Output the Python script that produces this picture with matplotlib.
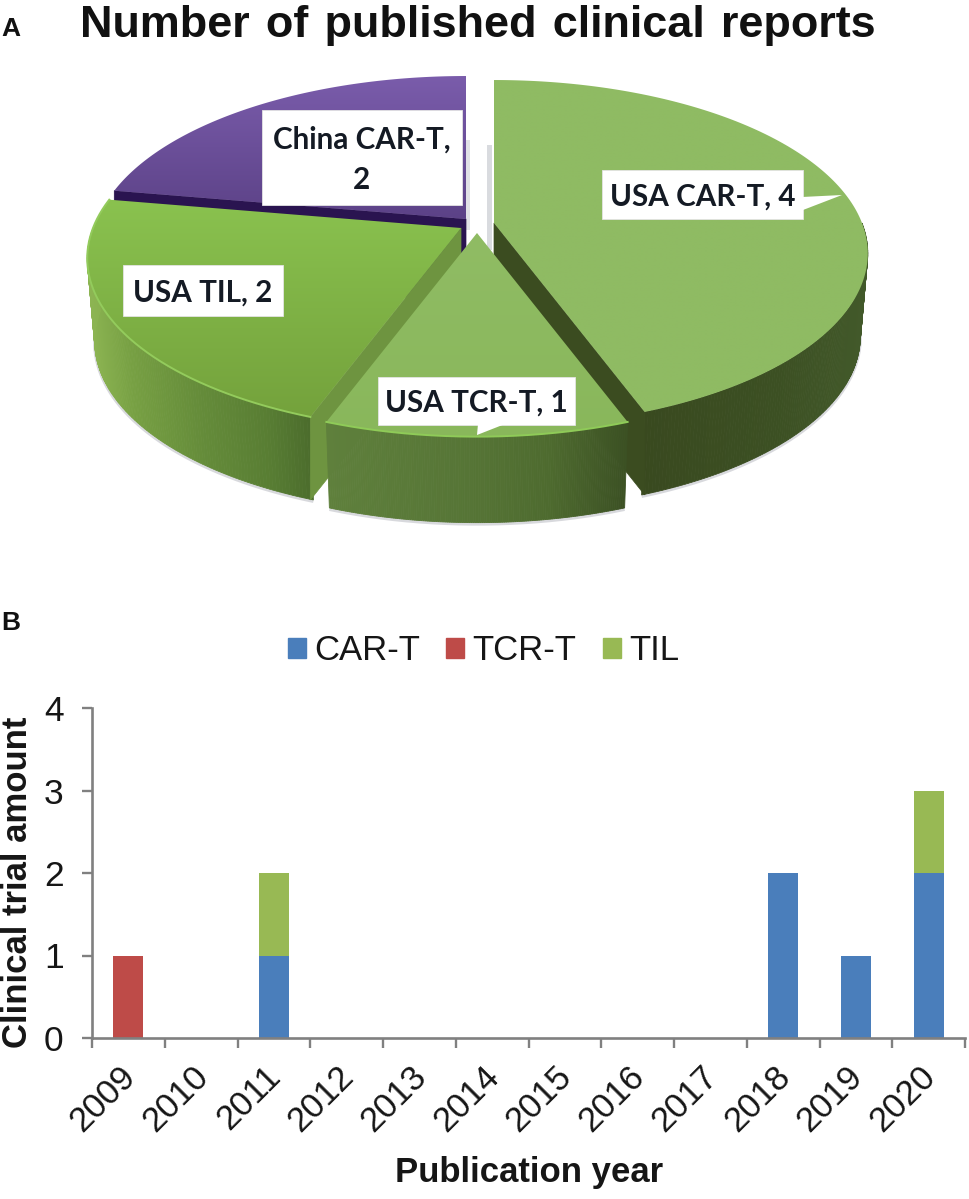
import numpy as np
import matplotlib
matplotlib.use("Agg")
import matplotlib.pyplot as plt
from matplotlib.patches import Polygon, Patch
from matplotlib.colors import to_rgb, LinearSegmentedColormap

# ---- data ----
slice_names = ["USA CAR-T", "USA TCR-T", "USA TIL", "China CAR-T"]
slice_values = [4, 1, 2, 2]
years = [2009, 2010, 2011, 2012, 2013, 2014, 2015, 2016, 2017, 2018, 2019, 2020]
car_t = [0, 0, 1, 0, 0, 0, 0, 0, 0, 2, 1, 2]
tcr_t = [1, 0, 0, 0, 0, 0, 0, 0, 0, 0, 0, 0]
til = [0, 0, 1, 0, 0, 0, 0, 0, 0, 0, 0, 1]

W, H = 969, 1199
fig = plt.figure(figsize=(W / 100, H / 100), dpi=100, facecolor="white")
SANS = ["Liberation Sans", "DejaVu Sans"]
LABEL = ["Lato", "DejaVu Sans"]
INK = "#161616"

# ---- panel A: pseudo-3D pie in pixel space ----
ax = fig.add_axes([0, 0, 1, 1], zorder=2)
ax.set_xlim(0, W); ax.set_ylim(H, 0); ax.axis("off")
ax.patch.set_alpha(0)

RX, RY, K, DEPTH, TAPER = 368, 168, 0.175, 83, 0.98


def proj(theta, tip):
    u, v = np.cos(theta), -np.sin(theta)
    d = 1 - K * v
    return tip[0] + RX * u / d, tip[1] + RY * v / d


def lerp_col(x, stops):
    xs = [s[0] for s in stops]
    cs = np.array([to_rgb(s[1]) for s in stops])
    return tuple(np.interp(x, xs, cs[:, i]) for i in range(3))


def outer_wall(a0, a1, tip, stops, z, depth=DEPTH):
    th = np.linspace(a0, a1, 140)
    px, py = proj(th, tip)
    bx_ = tip[0] + (px - tip[0]) * TAPER
    by_ = py + depth
    ax.plot(bx_, by_ + 1.5, color="#d8d9dd", lw=2.2, zorder=z - 0.5, solid_capstyle="butt")
    for i in range(len(th) - 1):
        c = lerp_col(px[i], stops)
        ax.add_patch(Polygon([(px[i], py[i]), (px[i + 1], py[i + 1]),
                              (bx_[i + 1], by_[i + 1]), (bx_[i], by_[i])],
                             fc=c, ec=c, lw=0.6, zorder=z))


def edge_wall(theta, tip, color, z):
    ex, ey = proj(theta, tip)
    ax.add_patch(Polygon([tip, (ex, ey), (ex, ey + DEPTH), (tip[0], tip[1] + DEPTH)],
                         fc=color, ec=color, lw=0.5, zorder=z))


def top_face(a0, a1, tip, c_top, c_bot, z, rim=None):
    th = np.linspace(a0, a1, 200)
    px, py = proj(th, tip)
    pts = np.vstack([[tip], np.column_stack([px, py])])
    clip = Polygon(pts, transform=ax.transData, fc="none", ec="none")
    ax.add_patch(clip)
    cmap = LinearSegmentedColormap.from_list("g", [c_top, c_bot])
    im = ax.imshow(np.linspace(0, 1, 256)[:, None], cmap=cmap, aspect="auto",
                   extent=(pts[:, 0].min(), pts[:, 0].max(), pts[:, 1].max(), pts[:, 1].min()),
                   zorder=z, interpolation="bilinear")
    im.set_clip_path(clip)
    if rim:
        ax.plot(px, py, color=rim, lw=1.4, zorder=z + 0.2)


# slice angles come from the values, clockwise from 12 o'clock
total = sum(slice_values)
angs = np.pi / 2 - np.cumsum([0] + slice_values) / total * 2 * np.pi
a_car = (angs[0], angs[1]); a_tcr = (angs[1], angs[2])
a_til = (angs[2], angs[3]); a_chn = (angs[3], angs[4])
tip_car, tip_tcr, tip_til, tip_chn = (494, 223), (477, 233), (461, 228), (466, 219)

# faint shadows beside the central gap
ax.add_patch(Polygon([(487, 145), (492, 145), (492, 250), (487, 250)], fc="#d9dbdf", ec="none", zorder=1))
ax.add_patch(Polygon([(466, 140), (470, 140), (470, 230), (466, 230)], fc="#e0e1e6", ec="none", zorder=1))

# China (back)
edge_wall(a_chn[0], tip_chn, "#2a1450", 2)
top_face(a_chn[0], a_chn[1], tip_chn, "#7a5cab", "#5c4287", 3)
# CAR-T
outer_wall(0.0, a_car[1], tip_car, [(640, "#39491f"), (780, "#3c5023"), (865, "#42592a")], 4)
edge_wall(a_car[1], tip_car, "#3b4c20", 5)
top_face(a_car[0], a_car[1], tip_car, "#8fbb63", "#8fbb63", 6)
# TIL
outer_wall(a_til[0], -np.pi, tip_til,
           [(88, "#8cb452"), (130, "#77a043"), (200, "#658c3a"), (270, "#587d33"), (315, "#4b6b2c")], 7)
edge_wall(a_til[0], tip_til, "#6e9440", 8)
top_face(a_til[0], a_til[1], tip_til, "#8ac24f", "#74a23c", 9, rim="#93cb5c")
# TCR (front)
outer_wall(a_tcr[0], a_tcr[1], tip_tcr,
           [(327, "#5f803c"), (470, "#567536"), (550, "#4e6b2f"), (628, "#3c5124")], 10, depth=86)
top_face(a_tcr[0], a_tcr[1], tip_tcr, "#90bc64", "#89b75b", 11, rim="#8fcb58")


def label(text, x0, x1, y0, y1, tail=None, size=21.3):
    pts = [(x0, y0), (x1, y0), (x1, y1), (x0, y1)]
    ax.add_patch(Polygon(pts, fc="white", ec="#e4e4e4", lw=0.6, zorder=20))
    if tail is not None:
        ax.add_patch(Polygon(tail, fc="white", ec="none", zorder=20))
    ax.text((x0 + x1) / 2, (y0 + y1) / 2 + 2, text, ha="center", va="center", fontsize=size,
            fontweight="bold", family=LABEL, color="#141a24", zorder=21, linespacing=1.55)


label(f"{slice_names[3]},\n{slice_values[3]}", 262, 462, 110, 205)
label(f"{slice_names[2]}, {slice_values[2]}", 123, 283, 265, 316)
label(f"{slice_names[0]}, {slice_values[0]}", 602, 803, 170, 219,
      tail=[(802, 197), (842, 195), (803, 210)])
label(f"{slice_names[1]}, {slice_values[1]}", 378, 575, 377, 425,
      tail=[(478, 424), (477, 435), (505, 424)])

ax.text(478, 37, "Number \u200aof \u200apublished \u200aclinical \u200areports", ha="center", va="baseline",
        fontsize=32.4, fontweight="bold", family=SANS, color="#111111", zorder=30)
ax.text(1, 36, "A", ha="left", va="baseline", fontsize=19, fontweight="bold", family=SANS, color="#111111")
ax.text(1, 630, "B", ha="left", va="baseline", fontsize=19, fontweight="bold", family=SANS, color="#111111")

# ---- panel B: stacked bars ----
bx = fig.add_axes([92 / W, 1 - 1038 / H, 873 / W, 330 / H], zorder=1)
pos = np.arange(len(years))
car_arr, tcr_arr, til_arr = np.array(car_t), np.array(tcr_t), np.array(til)
cols = {"CAR-T": "#4a7ebb", "TCR-T": "#be4b48", "TIL": "#98b954"}
bw = 0.41
bx.bar(pos, car_arr, bw, color=cols["CAR-T"], label="CAR-T")
bx.bar(pos, tcr_arr, bw, bottom=car_arr, color=cols["TCR-T"], label="TCR-T")
bx.bar(pos, til_arr, bw, bottom=car_arr + tcr_arr, color=cols["TIL"], label="TIL")
bx.set_xlim(-0.5, len(years) - 0.5)
bx.set_ylim(0, 4)
bx.set_yticks([0, 1, 2, 3, 4])
bx.set_xticks(np.arange(len(years) + 1) - 0.5)
bx.set_xticklabels([])
bx.set_xticks(pos - 0.135, minor=True)
bx.set_xticklabels([str(y) for y in years], minor=True, rotation=45, ha="right",
                   rotation_mode="anchor", fontsize=25, family=SANS, color=INK)
bx.tick_params(axis="x", which="minor", length=0, pad=15.5)
bx.tick_params(axis="x", which="major", length=7.5, width=1.7, color="#808080")
bx.tick_params(axis="y", length=7, width=1.7, color="#808080", pad=13.5, labelsize=25.5, labelcolor=INK)
for t in bx.get_yticklabels():
    t.set_family(SANS)
for s in ("top", "right"):
    bx.spines[s].set_visible(False)
for s in ("left", "bottom"):
    bx.spines[s].set_color("#808080"); bx.spines[s].set_linewidth(1.9)
bx.patch.set_alpha(0)
fig.text(529 / W, 1 - 1182 / H, "Publication year", ha="center", va="baseline",
         fontsize=25, fontweight="bold", family=SANS, color=INK)
fig.text(27 / W, 1 - 882 / H, "Clinical trial amount", ha="center", va="baseline", rotation=90,
         rotation_mode="anchor", fontsize=25, fontweight="bold", family=SANS, color=INK)
handles = [Patch(color=cols[k], label=k) for k in cols]
leg = fig.legend(handles=handles, loc="center", bbox_to_anchor=(483.5 / W, 1 - 651 / H), ncols=3,
                 frameon=False, handlelength=0.52, handleheight=0.52,
                 handletextpad=0.23, columnspacing=0.76, prop={"family": SANS, "size": 25})
for t in leg.get_texts():
    t.set_color(INK)

fig.savefig("out.png", dpi=100, facecolor="white")
